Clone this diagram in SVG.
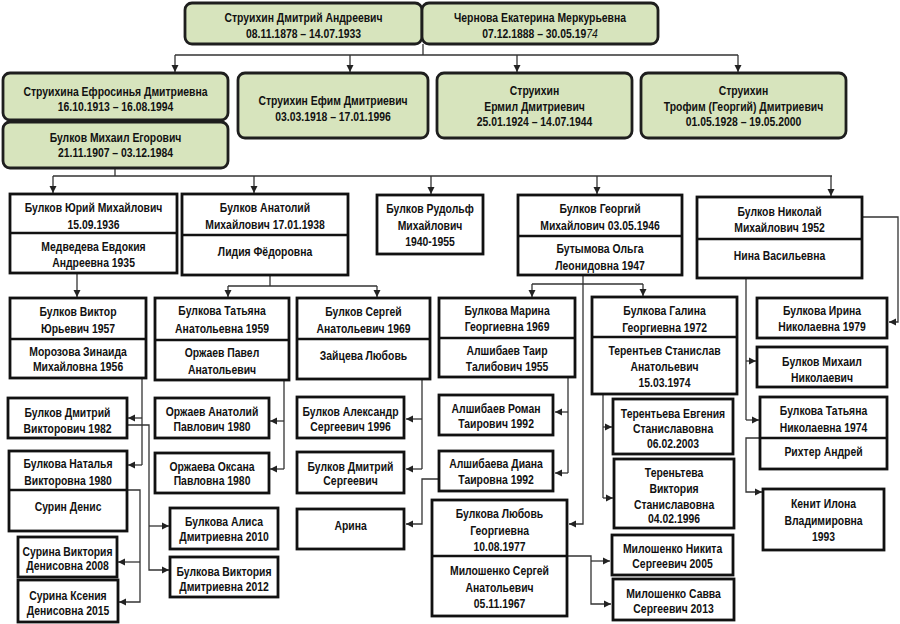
<svg xmlns="http://www.w3.org/2000/svg" width="900" height="624" viewBox="0 0 900 624">
<style>
.g{fill:#d7e4bd;stroke:#1e1e1e;stroke-width:2.8}
.b{fill:#fff;stroke:#111;stroke-width:2.8}
.d{stroke:#111;stroke-width:2.5}
.c{fill:none;stroke:#333;stroke-width:1.3}
text{font-family:"Liberation Sans",Arial,sans-serif;font-weight:bold;font-size:13px;text-anchor:middle;fill:#111;transform-box:fill-box;transform-origin:center;transform:scaleX(.8)}
</style>
<defs>
<marker id="ah" markerWidth="8" markerHeight="8" refX="7" refY="4" orient="auto" markerUnits="userSpaceOnUse"><path d="M0,0.5 L7,4 L0,7.5 z" fill="#222"/></marker>
</defs>
<rect width="900" height="624" fill="#fff"/>
<g id="connectors">
<path class="c" d="M423,44 V55 M175,55 H738"/>
<path class="c" d="M175,55 V72" marker-end="url(#ah)"/>
<path class="c" d="M350,55 V72" marker-end="url(#ah)"/>
<path class="c" d="M517,55 V72" marker-end="url(#ah)"/>
<path class="c" d="M738,55 V72" marker-end="url(#ah)"/>
<path class="c" d="M115,168 V176 M53,176 H832"/>
<path class="c" d="M53,176 V193" marker-end="url(#ah)"/>
<path class="c" d="M254,176 V193" marker-end="url(#ah)"/>
<path class="c" d="M431,176 V194" marker-end="url(#ah)"/>
<path class="c" d="M597,176 V194" marker-end="url(#ah)"/>
<path class="c" d="M831,176 V196" marker-end="url(#ah)"/>
<path class="c" d="M77,273 V297" marker-end="url(#ah)"/>
<path class="c" d="M270,275 V286 M228,286 H377"/>
<path class="c" d="M228,286 V297" marker-end="url(#ah)"/>
<path class="c" d="M377,286 V297" marker-end="url(#ah)"/>
<path class="c" d="M532,284 H643"/>
<path class="c" d="M532,284 V297" marker-end="url(#ah)"/>
<path class="c" d="M643,284 V296" marker-end="url(#ah)"/>
<path class="c" d="M583,275 V524 H569" marker-end="url(#ah)"/>
<path class="c" d="M568,377 V473"/>
<path class="c" d="M568,412 H555" marker-end="url(#ah)"/>
<path class="c" d="M568,473 H555" marker-end="url(#ah)"/>
<path class="c" d="M439,479 H422 V524 H406" marker-end="url(#ah)"/>
<path class="c" d="M422,379 V469"/>
<path class="c" d="M422,419 H406" marker-end="url(#ah)"/>
<path class="c" d="M422,469 H406" marker-end="url(#ah)"/>
<path class="c" d="M567,556 H591 V604 H611" marker-end="url(#ah)"/>
<path class="c" d="M591,561 H610" marker-end="url(#ah)"/>
<path class="c" d="M603,394 V498"/>
<path class="c" d="M603,427 H612" marker-end="url(#ah)"/>
<path class="c" d="M603,498 H613" marker-end="url(#ah)"/>
<path class="c" d="M862,217 H898 V322 H889" marker-end="url(#ah)"/>
<path class="c" d="M746,278 V420"/>
<path class="c" d="M746,361 H756" marker-end="url(#ah)"/>
<path class="c" d="M746,420 H759" marker-end="url(#ah)"/>
<path class="c" d="M760,438 H746 V492 H762" marker-end="url(#ah)"/>
<path class="c" d="M142,378 V465"/>
<path class="c" d="M142,418 H128" marker-end="url(#ah)"/>
<path class="c" d="M142,465 H128" marker-end="url(#ah)"/>
<path class="c" d="M127,425 H149 V570 H169" marker-end="url(#ah)"/>
<path class="c" d="M149,526 H169" marker-end="url(#ah)"/>
<path class="c" d="M127,490 H140 V602 H119" marker-end="url(#ah)"/>
<path class="c" d="M140,562 H118" marker-end="url(#ah)"/>
<path class="c" d="M284,380 V469"/>
<path class="c" d="M284,421 H270" marker-end="url(#ah)"/>
<path class="c" d="M284,469 H270" marker-end="url(#ah)"/>
</g>
<g id="n_dmitry"><rect class="g" x="185" y="3" width="237" height="41" rx="7"/><text x="303.5" y="22">Струихин Дмитрий Андреевич</text><text x="303.5" y="38">08.11.1878 – 14.07.1933</text></g>
<g id="n_chernova"><rect class="g" x="422" y="3" width="236" height="41" rx="7"/><text x="540" y="22">Чернова Екатерина Меркурьевна</text><text x="540" y="38">07.12.1888 – 30.05.19<tspan font-style="italic" font-weight="normal">74</tspan></text></g>
<g id="n_efrosinya"><rect class="g" x="3" y="73" width="225" height="47" rx="7"/><text x="115.5" y="96.5">Струихина Ефросинья Дмитриевна</text><text x="115.5" y="111">16.10.1913 – 16.08.1994</text></g>
<g id="n_mikhail"><rect class="g" x="3" y="122" width="225" height="46" rx="7"/><text x="115.5" y="142">Булков Михаил Егорович</text><text x="115.5" y="157">21.11.1907 – 03.12.1984</text></g>
<g id="n_efim"><rect class="g" x="238" y="73" width="190" height="65" rx="7"/><text x="333" y="105">Струихин Ефим Дмитриевич</text><text x="333" y="121">03.03.1918 – 17.01.1996</text></g>
<g id="n_ermil"><rect class="g" x="437" y="73" width="195" height="65" rx="7"/><text x="534.5" y="95">Струихин</text><text x="534.5" y="111.3">Ермил Дмитриевич</text><text x="534.5" y="126.3">25.01.1924 – 14.07.1944</text></g>
<g id="n_trofim"><rect class="g" x="641" y="73" width="205" height="65" rx="7"/><text x="743.5" y="95">Струихин</text><text x="743.5" y="111.3">Трофим (Георгий) Дмитриевич</text><text x="743.5" y="126.3">01.05.1928 – 19.05.2000</text></g>
<g id="n_yuri"><rect class="b" x="10" y="194" width="167" height="79"/><line class="d" x1="10" y1="233" x2="177" y2="233"/><text x="93.5" y="212.5">Булков Юрий Михайлович</text><text x="93.5" y="229">15.09.1936</text><text x="93.5" y="251">Медведева Евдокия</text><text x="93.5" y="267">Андреевна 1935</text></g>
<g id="n_anatoly"><rect class="b" x="182" y="194" width="166" height="81"/><line class="d" x1="182" y1="235" x2="348" y2="235"/><text x="265" y="212.5">Булков Анатолий</text><text x="265" y="229">Михайлович 17.01.1938</text><text x="265" y="256.5">Лидия Фёдоровна</text></g>
<g id="n_rudolf"><rect class="b" x="377" y="195" width="106" height="59"/><text x="430" y="213">Булков Рудольф</text><text x="430" y="229.7">Михайлович</text><text x="430" y="246.3">1940-1955</text></g>
<g id="n_georgy"><rect class="b" x="518" y="195" width="164" height="80"/><line class="d" x1="518" y1="236" x2="682" y2="236"/><text x="600" y="213.5">Булков Георгий</text><text x="600" y="230">Михайлович 03.05.1946</text><text x="600" y="253">Бутымова Ольга</text><text x="600" y="270">Леонидовна 1947</text></g>
<g id="n_nikolai"><rect class="b" x="697" y="197" width="165" height="81"/><line class="d" x1="697" y1="239" x2="862" y2="239"/><text x="779.5" y="216.3">Булков Николай</text><text x="779.5" y="232">Михайлович 1952</text><text x="779.5" y="259.7">Нина Васильевна</text></g>
<g id="n_viktor"><rect class="b" x="10" y="298" width="136" height="80"/><line class="d" x1="10" y1="339" x2="146" y2="339"/><text x="78" y="316.3">Булков Виктор</text><text x="78" y="333">Юрьевич 1957</text><text x="78" y="356.3">Морозова Зинаида</text><text x="78" y="370.7">Михайловна 1956</text></g>
<g id="n_tatyana"><rect class="b" x="155" y="298" width="134" height="82"/><line class="d" x1="155" y1="340" x2="289" y2="340"/><text x="222" y="314.7">Булкова Татьяна</text><text x="222" y="333">Анатольевна 1959</text><text x="222" y="357.3">Оржаев Павел</text><text x="222" y="374">Анатольевич</text></g>
<g id="n_sergey"><rect class="b" x="297" y="298" width="133" height="81"/><line class="d" x1="297" y1="339" x2="430" y2="339"/><text x="363.5" y="316.3">Булков Сергей</text><text x="363.5" y="333">Анатольевич 1969</text><text x="363.5" y="359.7">Зайцева Любовь</text></g>
<g id="n_marina"><rect class="b" x="439" y="298" width="136" height="79"/><line class="d" x1="439" y1="338" x2="575" y2="338"/><text x="507" y="314.7">Булкова Марина</text><text x="507" y="331.3">Георгиевна 1969</text><text x="507" y="354.7">Алшибаев Таир</text><text x="507" y="371.3">Талибович 1955</text></g>
<g id="n_galina"><rect class="b" x="592" y="297" width="145" height="97"/><line class="d" x1="592" y1="337" x2="737" y2="337"/><text x="664.5" y="314.7">Булкова Галина</text><text x="664.5" y="332">Георгиевна 1972</text><text x="664.5" y="354.7">Терентьев Станислав</text><text x="664.5" y="371.3">Анатольевич</text><text x="664.5" y="387.3">15.03.1974</text></g>
<g id="n_irina"><rect class="b" x="757" y="298" width="130" height="40"/><text x="822" y="315.3">Булкова Ирина</text><text x="822" y="331.3">Николаевна 1979</text></g>
<g id="n_mikhail_n"><rect class="b" x="757" y="347" width="130" height="40"/><text x="822" y="366.3">Булков Михаил</text><text x="822" y="382">Николаевич</text></g>
<g id="n_dmitry_v"><rect class="b" x="8" y="398" width="119" height="40"/><text x="67.5" y="416.7">Булков Дмитрий</text><text x="67.5" y="432.7">Викторович 1982</text></g>
<g id="n_natalya"><rect class="b" x="9" y="451" width="118" height="80"/><line class="d" x1="9" y1="490" x2="127" y2="490"/><text x="68" y="468">Булкова Наталья</text><text x="68" y="484.7">Викторовна 1980</text><text x="68" y="511.3">Сурин Денис</text></g>
<g id="n_anatoly_o"><rect class="b" x="155" y="398" width="114" height="40"/><text x="212" y="416.3">Оржаев Анатолий</text><text x="212" y="431.3">Павлович 1980</text></g>
<g id="n_oksana"><rect class="b" x="155" y="453" width="114" height="40"/><text x="212" y="470.7">Оржаева Оксана</text><text x="212" y="485.3">Павловна 1980</text></g>
<g id="n_alexandr"><rect class="b" x="297" y="397" width="107" height="41"/><text x="350.5" y="416.3">Булков Александр</text><text x="350.5" y="431.3">Сергеевич 1996</text></g>
<g id="n_dmitry_s"><rect class="b" x="297" y="452" width="107" height="41"/><text x="350.5" y="470.7">Булков Дмитрий</text><text x="350.5" y="484.7">Сергеевич</text></g>
<g id="n_arina"><rect class="b" x="297" y="509" width="107" height="40"/><text x="350.5" y="530.3">Арина</text></g>
<g id="n_roman"><rect class="b" x="439" y="395" width="114" height="40"/><text x="496" y="413">Алшибаев Роман</text><text x="496" y="428">Таирович 1992</text></g>
<g id="n_diana"><rect class="b" x="439" y="451" width="114" height="40"/><text x="496" y="468">Алшибаева Диана</text><text x="496" y="483.7">Таировна 1992</text></g>
<g id="n_lyubov"><rect class="b" x="432" y="500" width="135" height="116"/><line class="d" x1="432" y1="556" x2="567" y2="556"/><text x="499.5" y="518">Булкова Любовь</text><text x="499.5" y="534.7">Георгиевна</text><text x="499.5" y="550.7">10.08.1977</text><text x="499.5" y="575.3">Милошенко Сергей</text><text x="499.5" y="592">Анатольевич</text><text x="499.5" y="608">05.11.1967</text></g>
<g id="n_evgenia"><rect class="b" x="613" y="399" width="120" height="55"/><text x="673" y="418">Терентьева Евгения</text><text x="673" y="433">Станиславовна</text><text x="673" y="448">06.02.2003</text></g>
<g id="n_viktoria_t"><rect class="b" x="614" y="459" width="120" height="69"/><text x="674" y="477.3">Тереньтева</text><text x="674" y="493">Виктория</text><text x="674" y="508.7">Станиславовна</text><text x="674" y="523">04.02.1996</text></g>
<g id="n_nikita"><rect class="b" x="612" y="535" width="121" height="40"/><text x="672.5" y="553">Милошенко Никита</text><text x="672.5" y="568">Сергеевич 2005</text></g>
<g id="n_savva"><rect class="b" x="613" y="579" width="121" height="41"/><text x="673.5" y="598">Милошенко Савва</text><text x="673.5" y="613">Сергеевич 2013</text></g>
<g id="n_tatyana_n"><rect class="b" x="760" y="397" width="127" height="72"/><line class="d" x1="760" y1="438" x2="887" y2="438"/><text x="823.5" y="415.3">Булкова Татьяна</text><text x="823.5" y="432">Николаевна 1974</text><text x="823.5" y="456.3">Рихтер Андрей</text></g>
<g id="n_kenit"><rect class="b" x="763" y="489" width="121" height="61"/><text x="823.5" y="508">Кенит Илона</text><text x="823.5" y="524.7">Владимировна</text><text x="823.5" y="540.7">1993</text></g>
<g id="n_alisa"><rect class="b" x="170" y="508" width="108" height="41"/><text x="224" y="526.3">Булкова Алиса</text><text x="224" y="541.3">Дмитриевна 2010</text></g>
<g id="n_viktoria_d"><rect class="b" x="170" y="557" width="108" height="40"/><text x="224" y="576.3">Булкова Виктория</text><text x="224" y="590.7">Дмитриевна 2012</text></g>
<g id="n_surina_v"><rect class="b" x="18" y="537" width="99" height="40"/><text x="67.5" y="556.3">Сурина Виктория</text><text x="67.5" y="569.7">Денисовна 2008</text></g>
<g id="n_surina_k"><rect class="b" x="18" y="580" width="100" height="42"/><text x="68" y="599.7">Сурина Ксения</text><text x="68" y="614.7">Денисовна 2015</text></g>
</svg>
